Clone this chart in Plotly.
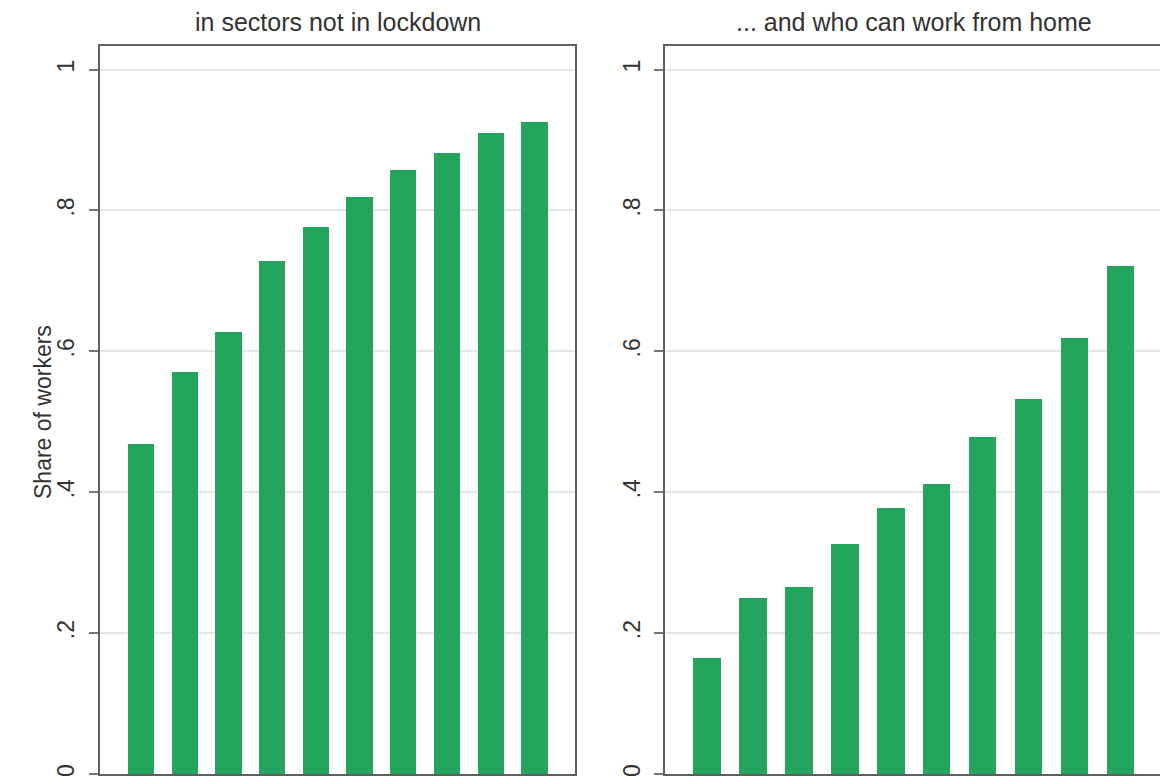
import plotly.graph_objects as go

W, H = 1160, 781

categories = [1, 2, 3, 4, 5, 6, 7, 8, 9, 10]
not_lockdown = [0.469, 0.571, 0.627, 0.728, 0.777, 0.819, 0.858, 0.881, 0.910, 0.926]
work_from_home = [0.165, 0.250, 0.266, 0.326, 0.378, 0.412, 0.478, 0.533, 0.619, 0.721]
tick_vals = [0, 0.2, 0.4, 0.6, 0.8, 1]
tick_text = ["0", ".2", ".4", ".6", ".8", "1"]
titles = ["in sectors not in lockdown", "... and who can work from home"]
y_title = "Share of workers"

BAR = "#23a55e"
AX = "#5f5f5f"
GRID = "#e6e6e6"
FONT = "Liberation Sans, Arial, sans-serif"


def px(x):
    return x / W


def py(y):
    return 1 - y / H


fig = go.Figure()
fig.add_trace(go.Bar(x=categories, y=not_lockdown, width=0.6, marker=dict(color=BAR, line=dict(width=0)),
                     xaxis="x", yaxis="y", showlegend=False))
fig.add_trace(go.Bar(x=categories, y=work_from_home, width=0.6, marker=dict(color=BAR, line=dict(width=0)),
                     xaxis="x2", yaxis="y2", showlegend=False))

ydom = [py(774), py(46)]
yrange = [0, 728 / 704.5]

common_y = dict(range=yrange, domain=ydom, tickvals=tick_vals, ticktext=tick_text, tickangle=-90,
                showgrid=True, gridcolor=GRID, gridwidth=1.5, zeroline=False,
                showline=True, linecolor=AX, linewidth=2, automargin=False,
                ticks="outside", ticklen=9, tickwidth=1.5, tickcolor="#777",
                ticklabelstandoff=5,
                tickfont=dict(family=FONT, size=23, color="#333"))

fig.update_layout(
    width=W, height=H, autosize=False,
    margin=dict(l=0, r=0, t=0, b=0, pad=0),
    paper_bgcolor="white", plot_bgcolor="white",
    bargap=0,
    xaxis=dict(domain=[px(99.5), px(575)], range=[0.06, 10.94], showgrid=False, zeroline=False,
               showline=True, linecolor=AX, linewidth=2, mirror=True, showticklabels=False, ticks="",
               automargin=False),
    xaxis2=dict(domain=[px(665), 1.0], range=[0.08, 10.865], showgrid=False, zeroline=False,
                showline=True, linecolor=AX, linewidth=2, mirror=True, showticklabels=False, ticks="",
                anchor="y2", automargin=False),
    yaxis=dict(**common_y, mirror=True, anchor="x"),
    yaxis2=dict(**common_y, mirror=False, anchor="x2"),
)

fig.add_annotation(text=titles[0], x=px(337.5), y=py(22), xref="paper", yref="paper",
                   showarrow=False, xanchor="center", yanchor="middle",
                   font=dict(family=FONT, size=25, color="#333"))
fig.add_annotation(text=titles[1], x=px(914), y=py(22), xref="paper", yref="paper",
                   showarrow=False, xanchor="center", yanchor="middle",
                   font=dict(family=FONT, size=25, color="#333"))
fig.add_annotation(text=y_title, x=px(43), y=py(412), xref="paper", yref="paper",
                   showarrow=False, xanchor="center", yanchor="middle", textangle=-90,
                   font=dict(family=FONT, size=23, color="#333"))

fig.write_html("out.html",
               config={"displayModeBar": False},
               post_script="document.body.style.margin='0';document.body.style.overflow='hidden';")
